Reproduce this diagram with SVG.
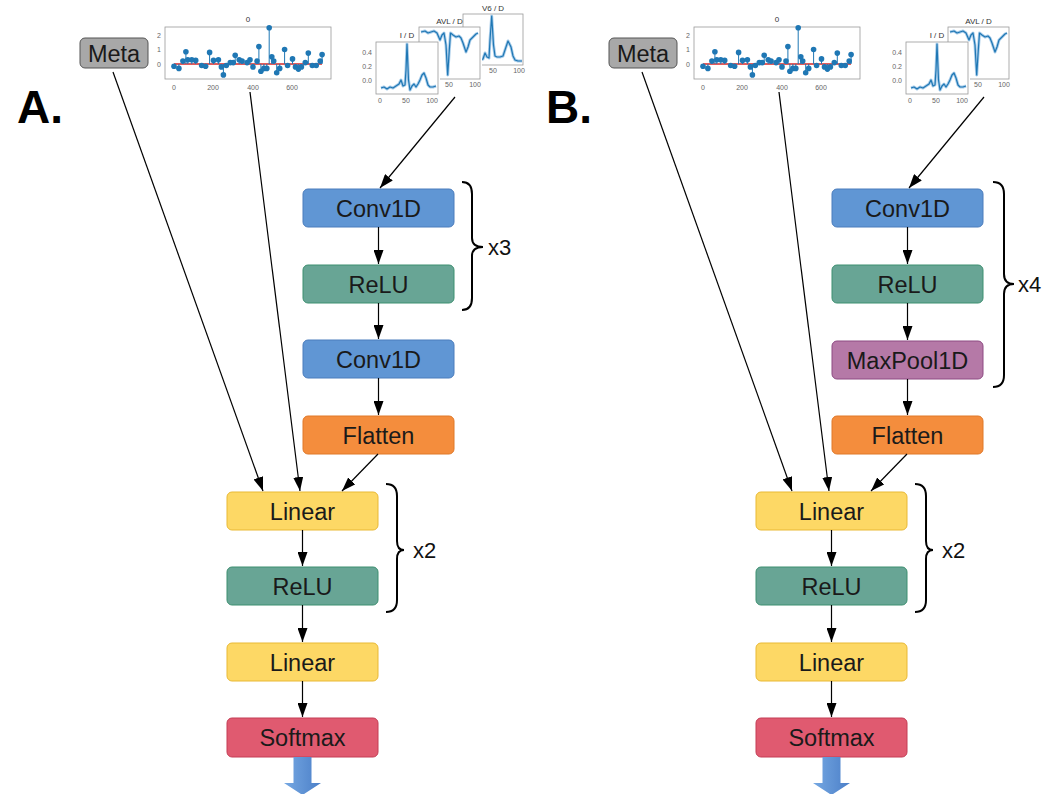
<svg xmlns="http://www.w3.org/2000/svg" xmlns:xlink="http://www.w3.org/1999/xlink" width="1058" height="794" viewBox="0 0 1058 794">
<style>
.bx{stroke-width:1}
.lbl{font-family:"Liberation Sans",Arial,sans-serif;font-size:23.5px;fill:#1a1a1a;text-anchor:middle}
.rep{font-family:"Liberation Sans",Arial,sans-serif;font-size:22px;fill:#111}
.panel{font-family:"Liberation Sans",Arial,sans-serif;font-size:46px;font-weight:bold;fill:#000}
.conn{stroke:#000;stroke-width:1.2;fill:none;marker-end:url(#ah)}
.brace{stroke:#000;stroke-width:2;fill:none}
.tk{font-family:"Liberation Sans",Arial,sans-serif;font-size:7px;fill:#666}
.tt{font-family:"Liberation Sans",Arial,sans-serif;font-size:8px;fill:#333;text-anchor:middle}
.frame{fill:none;stroke:#999;stroke-width:0.8}
.sigb{fill:none;stroke:#a9cdea;stroke-width:3;stroke-linejoin:round}
.sig{fill:none;stroke:#1f77b4;stroke-width:1.2;stroke-linejoin:round}
.conv{fill:#6096d4;stroke:#4a7cbc}
.relu{fill:#68a595;stroke:#3d8f70}
.lin{fill:#fdd865;stroke:#e9b935}
.flat{fill:#f48d3d;stroke:#e07828}
.soft{fill:#e05a70;stroke:#c43d55}
.pool{fill:#b579a7;stroke:#8d4a82}
.meta{fill:#a8a8a8;stroke:#555}
</style>
<defs>
<marker id="ah" viewBox="0 0 14 10" refX="14" refY="5" markerWidth="14" markerHeight="10" markerUnits="userSpaceOnUse" orient="auto">
<path d="M0,0 L14,5 L0,10 z" fill="#000"/>
</marker>
<linearGradient id="blueArrow" x1="0" y1="0" x2="1" y2="0">
<stop offset="0" stop-color="#76a8e2"/>
<stop offset="1" stop-color="#4b7fc8"/>
</linearGradient>
<g id="plot0">
<rect x="165" y="27" width="166" height="52" fill="#fff" class="frame"/>
<text class="tt" x="248" y="22">0</text>
<g class="tk" text-anchor="end">
<text x="161" y="38">2</text><text x="161" y="52">1</text><text x="161" y="67">0</text>
</g>
<g class="tk" text-anchor="middle">
<text x="174" y="90">0</text><text x="213" y="90">200</text><text x="253" y="90">400</text><text x="292" y="90">600</text>
</g>
<path d="M174,64 H322" stroke="#d62728" stroke-width="1.3"/>
<path stroke="#1f77b4" stroke-width="1" fill="none" d="M174,64V66.2M178.9,64V68.4M182.9,64V61.1M185.9,64V51.7M187.8,64V59.7M191.8,64V59.7M195.7,64V60.4M201.7,64V65.5M205.6,64V66.2M209.6,64V52.4M213.5,64V60.4M218.4,64V59.7M221.4,64V66.9M223.4,64V74.9M226.3,64V65.5M230.3,64V62.6M233.3,64V62.6M235.2,64V55.3M239.2,64V59.7M242.1,64V61.1M247.1,64V62.6M250,64V59.7M253,64V66.9M257,64V61.1M258.9,64V46.6M260.9,64V71.3M263.9,64V68.4M266.8,64V68.4M269.2,64V27.8M271.8,64V56.8M273.7,64V61.1M276.7,64V72.7M279.7,64V68.4M284.6,64V49.5M287.6,64V65.5M292.5,64V58.9M295.5,64V66.9M298.4,64V69.1M301.4,64V66.9M305.3,64V62.6M308.3,64V53.1M312.3,64V65.5M316.2,64V65.5M320.2,64V61.1M322.1,64V54.6"/>
<g fill="#1f77b4">
<circle cx="174" cy="66.2" r="2.8"/><circle cx="178.9" cy="68.4" r="2.8"/><circle cx="182.9" cy="61.1" r="2.8"/><circle cx="185.9" cy="51.7" r="2.8"/><circle cx="187.8" cy="59.7" r="2.8"/><circle cx="191.8" cy="59.7" r="2.8"/><circle cx="195.7" cy="60.4" r="2.8"/><circle cx="201.7" cy="65.5" r="2.8"/><circle cx="205.6" cy="66.2" r="2.8"/><circle cx="209.6" cy="52.4" r="2.8"/><circle cx="213.5" cy="60.4" r="2.8"/><circle cx="218.4" cy="59.7" r="2.8"/><circle cx="221.4" cy="66.9" r="2.8"/><circle cx="223.4" cy="74.9" r="2.8"/><circle cx="226.3" cy="65.5" r="2.8"/><circle cx="230.3" cy="62.6" r="2.8"/><circle cx="233.3" cy="62.6" r="2.8"/><circle cx="235.2" cy="55.3" r="2.8"/><circle cx="239.2" cy="59.7" r="2.8"/><circle cx="242.1" cy="61.1" r="2.8"/><circle cx="247.1" cy="62.6" r="2.8"/><circle cx="250" cy="59.7" r="2.8"/><circle cx="253" cy="66.9" r="2.8"/><circle cx="257" cy="61.1" r="2.8"/><circle cx="258.9" cy="46.6" r="2.8"/><circle cx="260.9" cy="71.3" r="2.8"/><circle cx="263.9" cy="68.4" r="2.8"/><circle cx="266.8" cy="68.4" r="2.8"/><circle cx="269.2" cy="27.8" r="2.8"/><circle cx="271.8" cy="56.8" r="2.8"/><circle cx="273.7" cy="61.1" r="2.8"/><circle cx="276.7" cy="72.7" r="2.8"/><circle cx="279.7" cy="68.4" r="2.8"/><circle cx="284.6" cy="49.5" r="2.8"/><circle cx="287.6" cy="65.5" r="2.8"/><circle cx="292.5" cy="58.9" r="2.8"/><circle cx="295.5" cy="66.9" r="2.8"/><circle cx="298.4" cy="69.1" r="2.8"/><circle cx="301.4" cy="66.9" r="2.8"/><circle cx="305.3" cy="62.6" r="2.8"/><circle cx="308.3" cy="53.1" r="2.8"/><circle cx="312.3" cy="65.5" r="2.8"/><circle cx="316.2" cy="65.5" r="2.8"/><circle cx="320.2" cy="61.1" r="2.8"/><circle cx="322.1" cy="54.6" r="2.8"/>
</g>
</g>
<g id="ecgAVL">
<rect x="419" y="27" width="63" height="63" fill="#fff"/>
<rect x="419" y="27" width="61" height="52" class="frame"/>
<text class="tt" x="449.5" y="24">AVL / D</text>
<g class="tk" text-anchor="middle"><text x="449" y="87">50</text><text x="475" y="87">100</text></g>
<path class="sigb" d="M421,32 L425,31 L428,33 L431,32 L434,31 L437,33 L440,40 L442,35 L444,33 L446,45 L447.7,75 L449.3,50 L450.5,33 L453,35 L456,37 L459,36 L461,38 L463,43 L466,52 L468,47 L470,40 L473,37 L476,34 L478,33"/>
<path class="sig" d="M421,32 L425,31 L428,33 L431,32 L434,31 L437,33 L440,40 L442,35 L444,33 L446,45 L447.7,75 L449.3,50 L450.5,33 L453,35 L456,37 L459,36 L461,38 L463,43 L466,52 L468,47 L470,40 L473,37 L476,34 L478,33"/>
</g>
<g id="ecgI">
<rect x="360" y="42" width="80" height="63" fill="#fff"/>
<rect x="376" y="42" width="62" height="52" class="frame"/>
<text class="tt" x="407" y="38">I / D</text>
<g class="tk" text-anchor="end"><text x="372" y="55">0.4</text><text x="372" y="69">0.2</text><text x="372" y="83">0.0</text></g>
<g class="tk" text-anchor="middle"><text x="380" y="103">0</text><text x="406" y="103">50</text><text x="432" y="103">100</text></g>
<path class="sigb" d="M381,88 L384,87 L387,89 L390,87 L393,88 L396,86 L399,84 L401,80 L403,86 L405,85 L406,70 L407,44 L408.5,80 L410,90 L412,86 L414,84 L416,87 L418,84 L420,80 L422,75 L424,73 L426,78 L428,85 L430,87 L433,87 L436,86"/>
<path class="sig" d="M381,88 L384,87 L387,89 L390,87 L393,88 L396,86 L399,84 L401,80 L403,86 L405,85 L406,70 L407,44 L408.5,80 L410,90 L412,86 L414,84 L416,87 L418,84 L420,80 L422,75 L424,73 L426,78 L428,85 L430,87 L433,87 L436,86"/>
</g>
</defs>
<rect width="1058" height="794" fill="#fff"/>

<!-- Panel labels -->
<text class="panel" x="17" y="123">A.</text>
<text class="panel" x="546" y="123">B.</text>

<!-- Input plots A -->
<g id="plotsA">
<use href="#plot0" xlink:href="#plot0"/>
<g id="ecgV6A">
<rect x="463" y="14" width="61" height="62" fill="#fff"/>
<rect x="463" y="14" width="60" height="51" class="frame"/>
<text class="tt" x="493" y="11">V6 / D</text>
<g class="tk" text-anchor="middle"><text x="493" y="73">50</text><text x="519" y="73">100</text></g>
<path class="sigb" d="M465,61 L470,60 L475,61 L480,60 L483,59 L485,53 L487,57 L489,58 L490,40 L491.7,16 L493.5,45 L495,56 L497,57 L500,57 L503,56 L505,50 L508,41 L511,47 L513,56 L515,60 L518,61 L522,61"/>
<path class="sig" d="M465,61 L470,60 L475,61 L480,60 L483,59 L485,53 L487,57 L489,58 L490,40 L491.7,16 L493.5,45 L495,56 L497,57 L500,57 L503,56 L505,50 L508,41 L511,47 L513,56 L515,60 L518,61 L522,61"/>
</g>
<use href="#ecgAVL" xlink:href="#ecgAVL"/>
<use href="#ecgI" xlink:href="#ecgI"/>
</g>

<!-- Input plots B -->
<g id="plotsB">
<use href="#plot0" xlink:href="#plot0" x="529"/>
<use href="#ecgAVL" xlink:href="#ecgAVL" x="529"/>
<use href="#ecgI" xlink:href="#ecgI" x="530"/>
</g>

<!-- Nodes A -->
<g id="A-meta"><rect class="bx meta" x="80" y="38" width="68" height="30" rx="5"/><text class="lbl" x="114" y="61.5">Meta</text></g>
<g id="A-conv1"><rect class="bx conv" x="303" y="189" width="151" height="38" rx="5"/><text class="lbl" x="378.5" y="216.5">Conv1D</text></g>
<g id="A-relu1"><rect class="bx relu" x="303" y="265" width="151" height="38" rx="5"/><text class="lbl" x="378.5" y="292.5">ReLU</text></g>
<g id="A-conv2"><rect class="bx conv" x="303" y="340" width="151" height="38" rx="5"/><text class="lbl" x="378.5" y="367.5">Conv1D</text></g>
<g id="A-flatten"><rect class="bx flat" x="303" y="416" width="151" height="38" rx="5"/><text class="lbl" x="378.5" y="443.5">Flatten</text></g>
<g id="A-linear1"><rect class="bx lin" x="227" y="492" width="151" height="38" rx="5"/><text class="lbl" x="302.5" y="519.5">Linear</text></g>
<g id="A-relu2"><rect class="bx relu" x="227" y="567" width="151" height="38" rx="5"/><text class="lbl" x="302.5" y="594.5">ReLU</text></g>
<g id="A-linear2"><rect class="bx lin" x="227" y="643" width="151" height="38" rx="5"/><text class="lbl" x="302.5" y="670.5">Linear</text></g>
<g id="A-softmax"><rect class="bx soft" x="227" y="718" width="151" height="39" rx="5"/><text class="lbl" x="302.5" y="746">Softmax</text></g>
<g id="A-out"><path d="M293.5,757 H311.5 V783 H321 L302.5,795 L284,783 H293.5 Z" fill="url(#blueArrow)"/></g>
<g id="A-brace1"><path class="brace" d="M462,182 Q472,182 472,194 V238 Q472,247 483,247 Q472,247 472,256 V298 Q472,310 462,310"/><text class="rep" x="488" y="255">x3</text></g>
<g id="A-brace2"><path class="brace" d="M386,484 Q397,484 397,496 V541 Q397,550 404,550 Q397,550 397,559 V600 Q397,612 386,612"/><text class="rep" x="413" y="558">x2</text></g>

<!-- Nodes B -->
<g id="B-meta"><rect class="bx meta" x="609" y="38" width="68" height="30" rx="5"/><text class="lbl" x="643" y="61.5">Meta</text></g>
<g id="B-conv"><rect class="bx conv" x="832" y="189" width="151" height="38" rx="5"/><text class="lbl" x="907.5" y="216.5">Conv1D</text></g>
<g id="B-relu1"><rect class="bx relu" x="832" y="265" width="151" height="38" rx="5"/><text class="lbl" x="907.5" y="292.5">ReLU</text></g>
<g id="B-pool"><rect class="bx pool" x="832" y="341" width="151" height="38" rx="5"/><text class="lbl" x="907.5" y="368.5">MaxPool1D</text></g>
<g id="B-flatten"><rect class="bx flat" x="832" y="416" width="151" height="38" rx="5"/><text class="lbl" x="907.5" y="443.5">Flatten</text></g>
<g id="B-linear1"><rect class="bx lin" x="756" y="492" width="151" height="38" rx="5"/><text class="lbl" x="831.5" y="519.5">Linear</text></g>
<g id="B-relu2"><rect class="bx relu" x="756" y="567" width="151" height="38" rx="5"/><text class="lbl" x="831.5" y="594.5">ReLU</text></g>
<g id="B-linear2"><rect class="bx lin" x="756" y="643" width="151" height="38" rx="5"/><text class="lbl" x="831.5" y="670.5">Linear</text></g>
<g id="B-softmax"><rect class="bx soft" x="756" y="718" width="151" height="39" rx="5"/><text class="lbl" x="831.5" y="746">Softmax</text></g>
<g id="B-out"><path d="M822.5,757 H840.5 V783 H850 L831.5,795 L813,783 H822.5 Z" fill="url(#blueArrow)"/></g>
<g id="B-brace1"><path class="brace" d="M993,182 Q1004,182 1004,194 V274 Q1004,284 1014,284 Q1004,284 1004,294 V375 Q1004,387 993,387"/><text class="rep" x="1018" y="292">x4</text></g>
<g id="B-brace2"><path class="brace" d="M915,484 Q926,484 926,496 V541 Q926,550 933,550 Q926,550 926,559 V600 Q926,612 915,612"/><text class="rep" x="942" y="558">x2</text></g>

<!-- Connectors -->
<g id="connectors">
<path class="conn" d="M113,72 L263,491"/>
<path class="conn" d="M250,92 L300,491"/>
<path class="conn" d="M455,97 L380,188"/>
<path class="conn" d="M378.5,227 V264"/>
<path class="conn" d="M378.5,303 V339"/>
<path class="conn" d="M378.5,378 V415"/>
<path class="conn" d="M378,454 L342,491"/>
<path class="conn" d="M302.5,530 V566"/>
<path class="conn" d="M302.5,605 V642"/>
<path class="conn" d="M302.5,681 V717"/>

<path class="conn" d="M642,72 L792,491"/>
<path class="conn" d="M779,92 L829,491"/>
<path class="conn" d="M984,97 L909,188"/>
<path class="conn" d="M907.5,227 V264"/>
<path class="conn" d="M907.5,303 V340"/>
<path class="conn" d="M907.5,379 V415"/>
<path class="conn" d="M907,454 L871,491"/>
<path class="conn" d="M831.5,530 V566"/>
<path class="conn" d="M831.5,605 V642"/>
<path class="conn" d="M831.5,681 V717"/>
</g>
</svg>
